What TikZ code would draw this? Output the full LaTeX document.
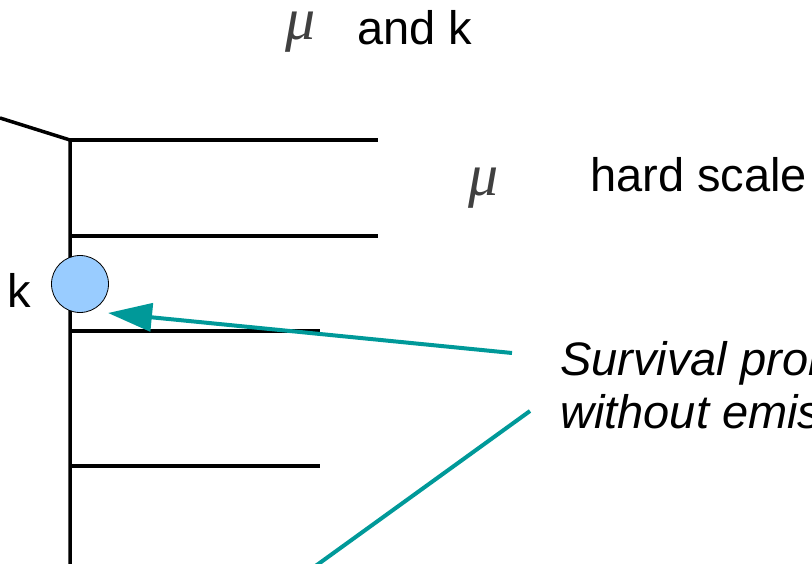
\documentclass[tikz,border=0pt]{standalone}
\usepackage{fontspec}
\setmainfont{Liberation Sans}
\newfontfamily\greekfont{Liberation Serif}
\usetikzlibrary{arrows.meta}
\definecolor{tealarrow}{HTML}{009999}
\definecolor{bubble}{HTML}{99CCFF}

\begin{document}
\begin{tikzpicture}[x=1pt,y=-1pt,
  rung/.style={line width=3.5pt,black},
  pointer/.style={line width=4pt,tealarrow},
  label/.style={anchor=base west,inner sep=0pt,font=\fontsize{47}{53}\selectfont},
  slabel/.style={label,font=\fontsize{47}{53}\selectfont\itshape},
  greek/.style={anchor=base,inner sep=0pt,font=\fontsize{60}{66}\selectfont\greekfont\itshape,black!75}]

\useasboundingbox (0,0) rectangle (812,564);
\clip (0,0) rectangle (812,564);

% ladder
\coordinate (kink) at (70,140);
\coordinate (foot) at (70,570);
\draw[rung] (0,118) -- (kink) -- (foot);
\draw[rung] (kink) -- (378,140);
\draw[rung] (70,236) -- (378,236);
\draw[rung] (70,331) -- (320,331);
\draw[rung] (70,466) -- (320,466);

% emission
\node[circle,draw,line width=0.8pt,fill=bubble,minimum size=57pt,inner sep=0pt] (blob) at (80,284) {};
\node[label] (klab) at (7,308) {k};

% scales
\node[greek] (mutop) at (301,40) {μ};
\node[label] (andk) at (357,45) {and k};
\node[greek] (muhard) at (484,196) {μ};
\node[label] (hard) at (590,192) {hard scale};

% survival
\node[slabel] (surv) at (560,375) {Survival probability};
\node[slabel] (noemis) at (560,428) {without emission};

% arrows
\coordinate (tail) at (512,353);
\coordinate (tip) at (108,313);
\draw[pointer,-{Triangle[length=44pt,width=28pt]}] (tail) -- (tip);
\coordinate (upper) at (530,411);
\coordinate (lower) at (310,570);
\draw[pointer] (upper) -- (lower);

\end{tikzpicture}
\end{document}
